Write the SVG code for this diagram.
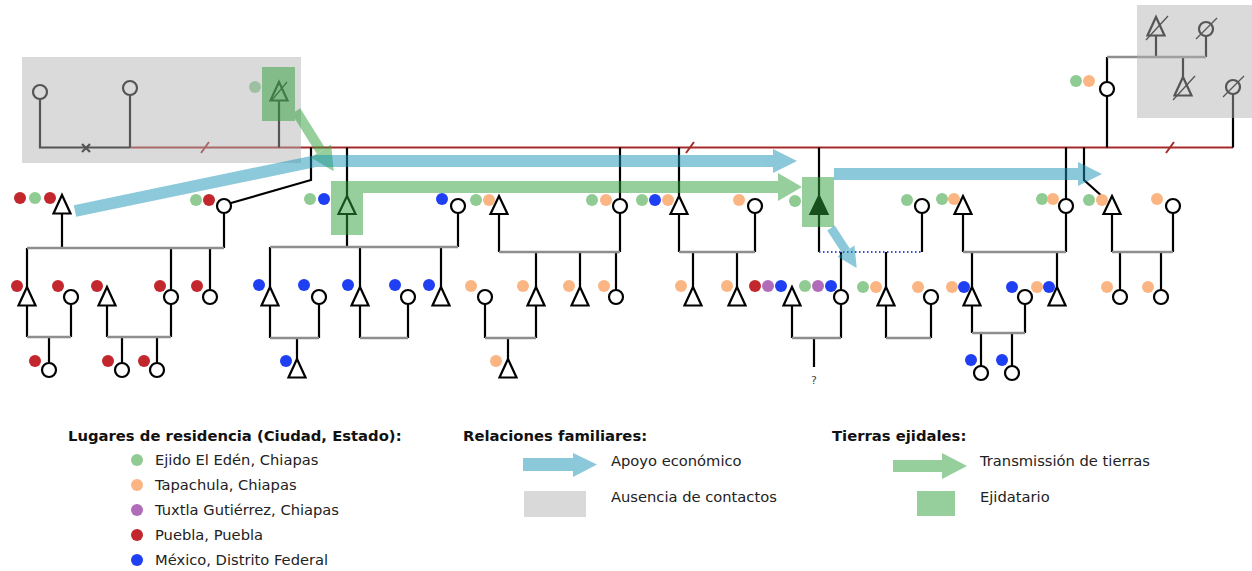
<svg xmlns="http://www.w3.org/2000/svg" width="1252" height="571" viewBox="0 0 1252 571">
<style>
.ln{stroke:#000;stroke-width:2.2;fill:none}
.fam{stroke:#8e8e8e;stroke-width:2.4;fill:none}
.red{stroke:#a52a2a;stroke-width:2;fill:none}
.nd{fill:#fff;stroke:#000;stroke-width:2.2}
.sl{stroke:#000;stroke-width:1.3}
.g{fill:#8fcb92}.o{fill:#fbb583}.p{fill:#b16cb9}.r{fill:#c1272d}.b{fill:#1f3ff2}
.ov{fill:#b1b1b1;opacity:0.48}
.t{font-family:"DejaVu Sans","Liberation Sans",sans-serif;font-size:14.7px;fill:#222}
.h{font-family:"DejaVu Sans","Liberation Sans",sans-serif;font-size:14.8px;font-weight:bold;fill:#111}
</style>
<g id="connectors">
<path class="red" d="M130,147.5 H1233"/>
<path class="red" d="M201,153 L209,142 M686,153 L694,142 M1166,153 L1174,142"/>
<path class="ln" d="M40,99 V147.5 H130 M130,95 V147.5 M279,101 V147.5"/>
<path class="ln" d="M82,144 L90,152 M90,144 L82,152" stroke-width="1.6"/>
<path class="ln" d="M311,147.5 V180 L231,203"/>
<path class="ln" d="M62,213.5 V248 M224,213 V248 M27,248 V287 M171,248 V290 M210,248 V290"/>
<path class="fam" d="M27,248 H224"/>
<path class="ln" d="M27,305.5 V337 M71,304 V337 M49,337 V363 M107,305.5 V337 M171,304 V337 M122,337 V363 M157,337 V363"/>
<path class="fam" d="M27,337 H71 M107,337 H171"/>
<path class="ln" d="M347,147.5 V196 M347,214 V247 M458,213 V247 M270,247 V287 M360,247 V287 M441,247 V287"/>
<path class="fam" d="M270,247 H458"/>
<path class="ln" d="M270,305.5 V338 M319,304 V338 M297,338 V359 M360,305.5 V338 M408,304 V338"/>
<path class="fam" d="M270,338 H319 M360,338 H408"/>
<path class="ln" d="M620,147.5 V199 M499,214 V252 M620,213 V252 M536,252 V287 M580,252 V287 M616,252 V290"/>
<path class="fam" d="M499,252 H620"/>
<path class="ln" d="M485,304 V338 M536,305.5 V338 M508,338 V359"/>
<path class="fam" d="M485,338 H536"/>
<path class="ln" d="M679,147.5 V196 M679,214 V252 M755,213 V252 M693,252 V287 M737,252 V287"/>
<path class="fam" d="M679,252 H755"/>
<path class="ln" d="M819,147.5 V196 M819,214 V252 M922,213 V252 M841,252 V290 M886,252 V287"/>
<path d="M819,252 H922" stroke="#3a4fd0" stroke-width="2" stroke-dasharray="1.5 2.5" fill="none"/>
<path class="ln" d="M792,305.5 V338 M841,304 V338 M814,338 V367 M886,305.5 V338 M931,304 V338"/>
<path class="fam" d="M792,338 H841 M886,338 H931"/>
<path class="ln" d="M1066,147.5 V199 M963,214 V252 M1066,213 V252 M972,252 V287 M1057,252 V287"/>
<path class="fam" d="M963,252 H1066"/>
<path class="ln" d="M972,305.5 V333 M1025,304 V333 M981,333 V366 M1012,333 V366"/>
<path class="fam" d="M972,333 H1025"/>
<path class="ln" d="M1084,147.5 V180 L1104,198 M1112,214 V252 M1173,213 V252 M1120,252 V290 M1161,252 V290"/>
<path class="fam" d="M1112,252 H1173"/>
<path class="ln" d="M1107,147.5 V96 M1107,82 V57 M1156,36 V57 M1206,36 V57 M1183,57 V77 M1233,147.5 V94"/>
<path class="fam" d="M1107,57 H1206"/>
</g>
<text x="814" y="384" font-family="DejaVu Sans, sans-serif" font-size="11" fill="#444" text-anchor="middle">?</text>
<g id="n-c40"><circle class="nd" cx="40" cy="92" r="7"/></g>
<g id="n-c130"><circle class="nd" cx="130" cy="88" r="7"/></g>
<g id="n-t279"><path class="nd" d="M279,82 L287.5,100.5 L270.5,100.5 Z"/><path class="sl" d="M272,100 L287,82"/><circle class="g" cx="255" cy="87" r="6"/></g>
<g id="n-t62"><path class="nd" d="M62,195 L70.5,213.5 L53.5,213.5 Z"/><circle class="r" cx="20" cy="198" r="6"/><circle class="g" cx="35" cy="198" r="6"/><circle class="r" cx="50" cy="198" r="6"/></g>
<g id="n-c224"><circle class="nd" cx="224" cy="206" r="7"/><circle class="g" cx="196" cy="200" r="6"/><circle class="r" cx="209" cy="200" r="6"/></g>
<g id="n-t27"><path class="nd" d="M27,287 L35.5,305.5 L18.5,305.5 Z"/><circle class="r" cx="17" cy="286" r="6"/></g>
<g id="n-c71"><circle class="nd" cx="71" cy="297" r="7"/><circle class="r" cx="58" cy="286" r="6"/></g>
<g id="n-t107"><path class="nd" d="M107,287 L115.5,305.5 L98.5,305.5 Z"/><circle class="r" cx="97" cy="286" r="6"/></g>
<g id="n-c171"><circle class="nd" cx="171" cy="297" r="7"/><circle class="r" cx="160" cy="286" r="6"/></g>
<g id="n-c210"><circle class="nd" cx="210" cy="297" r="7"/><circle class="r" cx="197" cy="286" r="6"/></g>
<g id="n-c49"><circle class="nd" cx="49" cy="370" r="7"/><circle class="r" cx="35" cy="361" r="6"/></g>
<g id="n-c122"><circle class="nd" cx="122" cy="370" r="7"/><circle class="r" cx="108" cy="361" r="6"/></g>
<g id="n-c157"><circle class="nd" cx="157" cy="370" r="7"/><circle class="r" cx="144" cy="361" r="6"/></g>
<g id="n-t347"><path class="nd" d="M347,196 L355.5,214 L338.5,214 Z"/><circle class="g" cx="310" cy="199" r="6"/><circle class="b" cx="324" cy="199" r="6"/></g>
<g id="n-c458"><circle class="nd" cx="458" cy="206" r="7"/><circle class="b" cx="442" cy="199" r="6"/></g>
<g id="n-t270"><path class="nd" d="M270,287 L278.5,305.5 L261.5,305.5 Z"/><circle class="b" cx="259" cy="285" r="6"/></g>
<g id="n-c319"><circle class="nd" cx="319" cy="297" r="7"/><circle class="b" cx="304" cy="285" r="6"/></g>
<g id="n-t360"><path class="nd" d="M360,287 L368.5,305.5 L351.5,305.5 Z"/><circle class="b" cx="348" cy="285" r="6"/></g>
<g id="n-c408"><circle class="nd" cx="408" cy="297" r="7"/><circle class="b" cx="395" cy="285" r="6"/></g>
<g id="n-t441"><path class="nd" d="M441,287 L449.5,305.5 L432.5,305.5 Z"/><circle class="b" cx="429" cy="285" r="6"/></g>
<g id="n-t297"><path class="nd" d="M297,359 L305.5,377.5 L288.5,377.5 Z"/><circle class="b" cx="286" cy="361" r="6"/></g>
<g id="n-t499"><path class="nd" d="M499,196 L507.5,214 L490.5,214 Z"/><circle class="g" cx="476" cy="200" r="6"/><circle class="o" cx="489" cy="200" r="6"/></g>
<g id="n-c620"><circle class="nd" cx="620" cy="206" r="7"/><circle class="g" cx="592" cy="200" r="6"/><circle class="o" cx="606" cy="200" r="6"/></g>
<g id="n-c485"><circle class="nd" cx="485" cy="297" r="7"/><circle class="o" cx="471" cy="286" r="6"/></g>
<g id="n-t536"><path class="nd" d="M536,287 L544.5,305.5 L527.5,305.5 Z"/><circle class="o" cx="523" cy="286" r="6"/></g>
<g id="n-t580"><path class="nd" d="M580,287 L588.5,305.5 L571.5,305.5 Z"/><circle class="o" cx="569" cy="286" r="6"/></g>
<g id="n-c616"><circle class="nd" cx="616" cy="297" r="7"/><circle class="o" cx="604" cy="286" r="6"/></g>
<g id="n-t508"><path class="nd" d="M508,359 L516.5,377.5 L499.5,377.5 Z"/><circle class="o" cx="496" cy="361" r="6"/></g>
<g id="n-t679"><path class="nd" d="M679,196 L687.5,214 L670.5,214 Z"/><circle class="g" cx="642" cy="200" r="6"/><circle class="b" cx="655" cy="200" r="6"/><circle class="o" cx="668" cy="200" r="6"/></g>
<g id="n-c755"><circle class="nd" cx="755" cy="206" r="7"/><circle class="o" cx="739" cy="200" r="6"/></g>
<g id="n-t693"><path class="nd" d="M693,287 L701.5,305.5 L684.5,305.5 Z"/><circle class="o" cx="681" cy="286" r="6"/></g>
<g id="n-t737"><path class="nd" d="M737,287 L745.5,305.5 L728.5,305.5 Z"/><circle class="o" cx="727" cy="286" r="6"/></g>
<g id="n-t819"><path d="M819,196 L827.5,214 L810.5,214 Z" fill="#000" stroke="#000" stroke-width="2.2"/><circle class="g" cx="795" cy="201" r="6"/></g>
<g id="n-c922"><circle class="nd" cx="922" cy="206" r="7"/><circle class="g" cx="907" cy="200" r="6"/></g>
<g id="n-t792"><path class="nd" d="M792,287 L800.5,305.5 L783.5,305.5 Z"/><circle class="r" cx="755" cy="286" r="6"/><circle class="p" cx="768" cy="286" r="6"/><circle class="b" cx="781" cy="286" r="6"/></g>
<g id="n-c841"><circle class="nd" cx="841" cy="297" r="7"/><circle class="g" cx="805" cy="286" r="6"/><circle class="p" cx="818" cy="286" r="6"/><circle class="b" cx="831" cy="286" r="6"/></g>
<g id="n-t886"><path class="nd" d="M886,287 L894.5,305.5 L877.5,305.5 Z"/><circle class="g" cx="863" cy="287" r="6"/><circle class="o" cx="876" cy="287" r="6"/></g>
<g id="n-c931"><circle class="nd" cx="931" cy="297" r="7"/><circle class="o" cx="918" cy="287" r="6"/></g>
<g id="n-t963"><path class="nd" d="M963,196 L971.5,214 L954.5,214 Z"/><circle class="g" cx="942" cy="199" r="6"/><circle class="o" cx="954" cy="199" r="6"/></g>
<g id="n-c1066"><circle class="nd" cx="1066" cy="206" r="7"/><circle class="g" cx="1042" cy="199" r="6"/><circle class="o" cx="1053" cy="199" r="6"/></g>
<g id="n-t972"><path class="nd" d="M972,287 L980.5,305.5 L963.5,305.5 Z"/><circle class="o" cx="952" cy="287" r="6"/><circle class="b" cx="964" cy="287" r="6"/></g>
<g id="n-c1025"><circle class="nd" cx="1025" cy="297" r="7"/><circle class="b" cx="1012" cy="287" r="6"/></g>
<g id="n-t1057"><path class="nd" d="M1057,287 L1065.5,305.5 L1048.5,305.5 Z"/><circle class="o" cx="1037" cy="287" r="6"/><circle class="b" cx="1049" cy="287" r="6"/></g>
<g id="n-c981"><circle class="nd" cx="981" cy="373" r="7"/><circle class="b" cx="971" cy="360" r="6"/></g>
<g id="n-c1012"><circle class="nd" cx="1012" cy="373" r="7"/><circle class="b" cx="1002" cy="360" r="6"/></g>
<g id="n-t1112"><path class="nd" d="M1112,196 L1120.5,214 L1103.5,214 Z"/><circle class="g" cx="1089" cy="200" r="6"/><circle class="o" cx="1102" cy="200" r="6"/></g>
<g id="n-c1173"><circle class="nd" cx="1173" cy="206" r="7"/><circle class="o" cx="1157" cy="199" r="6"/></g>
<g id="n-c1120"><circle class="nd" cx="1120" cy="297" r="7"/><circle class="o" cx="1107" cy="287" r="6"/></g>
<g id="n-c1161"><circle class="nd" cx="1161" cy="297" r="7"/><circle class="o" cx="1148" cy="287" r="6"/></g>
<g id="n-c1107"><circle class="nd" cx="1107" cy="89" r="7"/><circle class="g" cx="1076" cy="81" r="6"/><circle class="o" cx="1089" cy="81" r="6"/></g>
<g id="n-t1156"><path class="nd" d="M1156,17 L1164.5,35.5 L1147.5,35.5 Z"/><path class="sl" d="M1146,40 L1168,16"/></g>
<g id="n-c1206"><circle class="nd" cx="1206" cy="29" r="7"/><path class="sl" d="M1196,39 L1217,18"/></g>
<g id="n-t1183"><path class="nd" d="M1183,77 L1191.5,95.5 L1174.5,95.5 Z"/><path class="sl" d="M1173,100 L1195,76"/></g>
<g id="n-c1233"><circle class="nd" cx="1233" cy="87" r="7"/><path class="sl" d="M1223,97 L1244,76"/></g>
<rect class="ov" x="22" y="57" width="279" height="106"/>
<rect class="ov" x="1137" y="5" width="115" height="113"/>
<g id="green" opacity="0.5" fill="#30a03a">
<rect x="262" y="67" width="33" height="54"/>
<rect x="331" y="181" width="32" height="54"/>
<rect x="802" y="177" width="32" height="50"/>
<path d="M296,111 L321,151" stroke="#30a03a" stroke-width="10"/>
<polygon points="310.8,157.4 331.2,144.6 333.7,171.3"/>
<rect x="347" y="181" width="431" height="12"/>
<polygon points="778,173 802,187 778,201"/>
</g>
<g id="blue" opacity="0.5" fill="#1993b7">
<path d="M75,211 L316,161 L773,161" stroke="#1993b7" stroke-width="12" fill="none" stroke-linejoin="round"/>
<polygon points="773,149 797,161 773,173"/>
<path d="M834,174 H1078" stroke="#1993b7" stroke-width="12"/>
<polygon points="1078,162 1102,174 1078,186"/>
<path d="M831,228 L846,251" stroke="#1993b7" stroke-width="9"/>
<polygon points="837.5,256.4 854.5,245.6 856.7,267.9"/>
</g>
<g id="legend">
<text class="h" x="68" y="441">Lugares de residencia (Ciudad, Estado):</text>
<circle class="g" cx="137" cy="460" r="6"/><text class="t" x="155" y="465">Ejido El Edén, Chiapas</text>
<circle class="o" cx="137" cy="485" r="6"/><text class="t" x="155" y="490">Tapachula, Chiapas</text>
<circle class="p" cx="137" cy="510" r="6"/><text class="t" x="155" y="515">Tuxtla Gutiérrez, Chiapas</text>
<circle class="r" cx="137" cy="535" r="6"/><text class="t" x="155" y="540">Puebla, Puebla</text>
<circle class="b" cx="137" cy="560" r="6"/><text class="t" x="155" y="565">México, Distrito Federal</text>
<text class="h" x="463" y="441">Relaciones familiares:</text>
<g opacity="0.5" fill="#1993b7"><rect x="523" y="458" width="50" height="13"/><polygon points="573,453 597,464.5 573,477"/></g>
<text class="t" x="611" y="466">Apoyo económico</text>
<rect x="524" y="491" width="62" height="26" fill="#d9d9d9"/>
<text class="t" x="611" y="502">Ausencia de contactos</text>
<text class="h" x="832" y="441">Tierras ejidales:</text>
<g opacity="0.5" fill="#30a03a"><rect x="893" y="460" width="49" height="12"/><polygon points="942,453 967,466 942,479"/></g>
<text class="t" x="980" y="466">Transmissión de tierras</text>
<rect x="917" y="491" width="38" height="25" fill="#30a03a" opacity="0.5"/>
<text class="t" x="980" y="502">Ejidatario</text>
</g>
</svg>
